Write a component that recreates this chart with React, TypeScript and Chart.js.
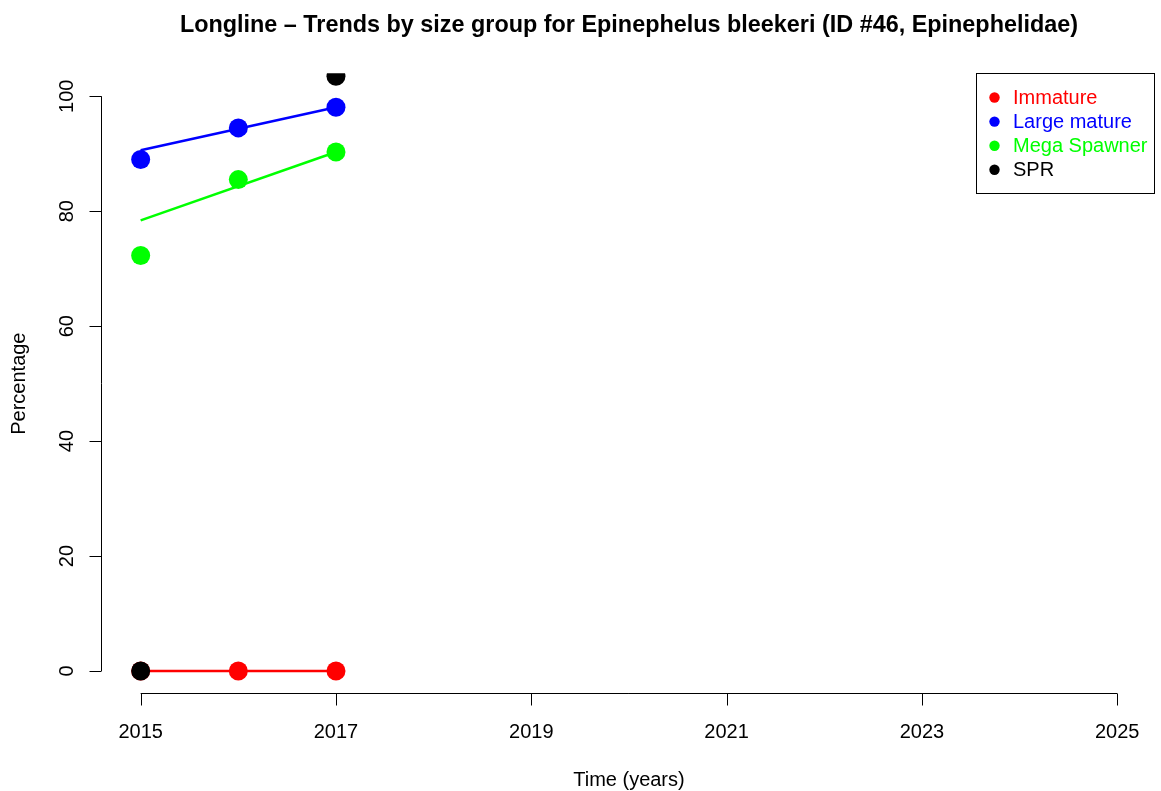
import React, { useEffect, useRef } from "react";
import { Chart, registerables } from "chart.js";

Chart.register(...registerables);

const TITLE = "Longline \u2013 Trends by size group for Epinephelus bleekeri (ID #46, Epinephelidae)";
const X_LABEL = "Time (years)";
const Y_LABEL = "Percentage";

const years = [2015, 2016, 2017];
const immature = [0, 0, 0];
const largeMature = [89.0, 94.5, 98.1];
const megaSpawner = [72.3, 85.5, 90.3];
const spr = [0, null, 103.5];

const trendYears = [2015, 2017];
const largeMatureTrend = [90.6, 98.1];
const megaSpawnerTrend = [78.4, 90.3];

const xTicks = [2015, 2017, 2019, 2021, 2023, 2025];
const yTicks = [0, 20, 40, 60, 80, 100];

const legendLabels = ["Immature", "Large mature", "Mega Spawner", "SPR"];
const legendColors = ["#FF0000", "#0000FF", "#00FF00", "#000000"];

const FONT = '"Liberation Sans", Arial, Helvetica, sans-serif';

const toPoints = (xs: number[], ys: (number | null)[]) =>
  xs.map((x, i) => ({ x, y: ys[i] }));

const rAxesPlugin = {
  id: "rAxes",
  afterDraw(chart: any) {
    const ctx = chart.ctx as CanvasRenderingContext2D;
    const xs = chart.scales.x;
    const ys = chart.scales.y;
    const area = chart.chartArea;
    ctx.save();
    ctx.strokeStyle = "#000";
    ctx.fillStyle = "#000";
    ctx.lineWidth = 1;

    // x axis
    const axisY = Math.round(area.bottom) - 0.5;
    const x0 = xs.getPixelForValue(xTicks[0]);
    const x1 = xs.getPixelForValue(xTicks[xTicks.length - 1]);
    ctx.beginPath();
    ctx.moveTo(x0, axisY);
    ctx.lineTo(x1, axisY);
    xTicks.forEach((t) => {
      const px = Math.round(xs.getPixelForValue(t)) + 0.5;
      ctx.moveTo(px, axisY);
      ctx.lineTo(px, axisY + 12);
    });
    ctx.stroke();
    ctx.font = `20px ${FONT}`;
    ctx.textAlign = "center";
    ctx.textBaseline = "alphabetic";
    xTicks.forEach((t) => {
      ctx.fillText(String(t), xs.getPixelForValue(t), 738);
    });

    // y axis
    const axisX = Math.round(area.left) - 0.5;
    const y0 = ys.getPixelForValue(yTicks[0]);
    const y1 = ys.getPixelForValue(yTicks[yTicks.length - 1]);
    ctx.beginPath();
    ctx.moveTo(axisX, y0);
    ctx.lineTo(axisX, y1);
    yTicks.forEach((t) => {
      const py = Math.round(ys.getPixelForValue(t)) + 0.5;
      ctx.moveTo(axisX, py);
      ctx.lineTo(axisX - 12, py);
    });
    ctx.stroke();
    yTicks.forEach((t) => {
      const py = ys.getPixelForValue(t);
      ctx.save();
      ctx.translate(72.5, py);
      ctx.rotate(-Math.PI / 2);
      ctx.textAlign = "center";
      ctx.fillText(String(t), 0, 0);
      ctx.restore();
    });

    // axis titles
    const cx = (area.left + area.right) / 2;
    const cy = (area.top + area.bottom) / 2;
    ctx.textAlign = "center";
    ctx.fillText(X_LABEL, cx, 786);
    ctx.save();
    ctx.translate(25, cy);
    ctx.rotate(-Math.PI / 2);
    ctx.fillText(Y_LABEL, 0, 0);
    ctx.restore();

    // title
    ctx.font = `bold 23.4px ${FONT}`;
    ctx.fillText(TITLE, cx, 31.5);

    // legend
    const bx = 976.5, by = 73.5, bw = 178, bh = 120;
    ctx.lineWidth = 1;
    ctx.strokeRect(bx, by, bw, bh);
    ctx.font = `20px ${FONT}`;
    ctx.textAlign = "left";
    ctx.textBaseline = "middle";
    legendLabels.forEach((lab, i) => {
      const ly = 97.5 + i * 24.1;
      ctx.fillStyle = legendColors[i];
      ctx.beginPath();
      ctx.arc(994.5, ly, 5.2, 0, Math.PI * 2);
      ctx.fill();
      ctx.fillText(lab, 1013, ly + 1);
    });
    ctx.restore();
  },
};

export default function App() {
  const canvasRef = useRef<HTMLCanvasElement | null>(null);

  useEffect(() => {
    if (!canvasRef.current) return;
    const pointBase = {
      showLine: false,
      pointRadius: 9.5,
      pointHoverRadius: 9.5,
      pointBorderWidth: 0,
      clip: 0,
    };
    const chart = new Chart(canvasRef.current, {
      type: "line",
      data: {
        datasets: [
          {
            ...pointBase,
            label: "SPR",
            data: toPoints(years, spr),
            borderColor: "#000000",
            backgroundColor: "#000000",
            pointBackgroundColor: "#000000",
            order: 0,
          },
          {
            ...pointBase,
            label: "Immature",
            data: toPoints(years, immature),
            showLine: true,
            borderWidth: 2.5,
            borderColor: "#FF0000",
            backgroundColor: "#FF0000",
            pointBackgroundColor: "#FF0000",
            order: 1,
          },
          {
            ...pointBase,
            label: "Large mature",
            data: toPoints(years, largeMature),
            borderColor: "#0000FF",
            backgroundColor: "#0000FF",
            pointBackgroundColor: "#0000FF",
            order: 2,
          },
          {
            ...pointBase,
            label: "Mega Spawner",
            data: toPoints(years, megaSpawner),
            borderColor: "#00FF00",
            backgroundColor: "#00FF00",
            pointBackgroundColor: "#00FF00",
            order: 3,
          },
          {
            label: "Large mature trend",
            data: toPoints(trendYears, largeMatureTrend),
            showLine: true,
            pointRadius: 0,
            borderWidth: 2.5,
            borderColor: "#0000FF",
            clip: 0,
            order: 4,
          },
          {
            label: "Mega Spawner trend",
            data: toPoints(trendYears, megaSpawnerTrend),
            showLine: true,
            pointRadius: 0,
            borderWidth: 2.5,
            borderColor: "#00FF00",
            clip: 0,
            order: 5,
          },
        ],
      },
      options: {
        animation: false,
        responsive: false,
        devicePixelRatio: 1,
        events: [],
        layout: {
          autoPadding: false,
          padding: { left: 101.6, right: 4.7, top: 73.3, bottom: 97 },
        },
        plugins: {
          legend: { display: false },
          title: { display: false },
          tooltip: { enabled: false },
        },
        scales: {
          x: { type: "linear", min: 2014.6, max: 2025.4, display: false },
          y: { type: "linear", min: -4, max: 104, display: false },
        },
      },
      plugins: [rAxesPlugin],
    } as any);
    return () => chart.destroy();
  }, []);

  return (
    <div style={{ position: "absolute", left: 0, top: 0, width: 1161, height: 791, background: "#fff" }}>
      <canvas ref={canvasRef} width={1161} height={791} style={{ display: "block" }} />
    </div>
  );
}
